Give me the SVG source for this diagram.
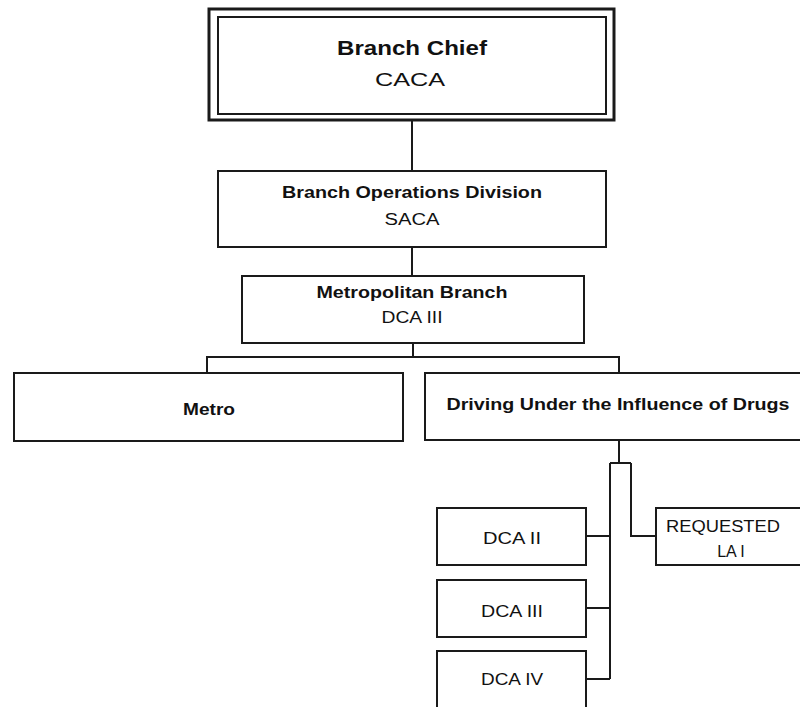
<svg xmlns="http://www.w3.org/2000/svg" width="800" height="707" viewBox="0 0 800 707">
<style>
.box{fill:#fff;stroke:#1a1a1a;stroke-width:2}
.ln{fill:none;stroke:#1a1a1a;stroke-width:2}
text{font-family:"Liberation Sans",Arial,sans-serif;fill:#111;text-anchor:middle}
.b{font-weight:bold}
</style>
<rect width="800" height="707" fill="#fff"/>
<g id="connectors">
<path class="ln" d="M412,120 V171"/>
<path class="ln" d="M412,247 V276"/>
<path class="ln" d="M413,343 V357 M207,373 V357 H619 V373"/>
<path class="ln" d="M619,440 V463 M610,463 H631 M610,463 V679 M631,463 V536 H656"/>
<path class="ln" d="M586,536 H610 M586,608 H610 M586,679 H610"/>
</g>
<g id="branch-chief">
<rect x="209" y="9" width="405" height="111" fill="#fff" stroke="#1a1a1a" stroke-width="3"/>
<rect x="218" y="17" width="388" height="97" fill="none" stroke="#1a1a1a" stroke-width="2"/>
<text class="b" x="412" y="55" font-size="21" textLength="150" lengthAdjust="spacingAndGlyphs">Branch Chief</text>
<text x="410" y="86" font-size="19" textLength="70" lengthAdjust="spacingAndGlyphs">CACA</text>
</g>
<g id="branch-operations">
<rect class="box" x="218" y="171" width="388" height="76"/>
<text class="b" x="412" y="198" font-size="17" textLength="260" lengthAdjust="spacingAndGlyphs">Branch Operations Division</text>
<text x="412" y="225" font-size="16" textLength="55" lengthAdjust="spacingAndGlyphs">SACA</text>
</g>
<g id="metropolitan-branch">
<rect class="box" x="242" y="276" width="342" height="67"/>
<text class="b" x="412" y="298" font-size="16" textLength="191" lengthAdjust="spacingAndGlyphs">Metropolitan Branch</text>
<text x="412" y="323" font-size="16" textLength="61" lengthAdjust="spacingAndGlyphs">DCA III</text>
</g>
<g id="metro">
<rect class="box" x="14" y="373" width="389" height="68"/>
<text class="b" x="209" y="415" font-size="16" textLength="52" lengthAdjust="spacingAndGlyphs">Metro</text>
</g>
<g id="duid">
<rect class="box" x="425" y="373" width="390" height="67"/>
<text class="b" x="618" y="410" font-size="17" textLength="343" lengthAdjust="spacingAndGlyphs">Driving Under the Influence of Drugs</text>
</g>
<g id="requested">
<rect class="box" x="656" y="508" width="160" height="57"/>
<text x="723" y="532" font-size="16" textLength="114" lengthAdjust="spacingAndGlyphs">REQUESTED</text>
<text x="731" y="557" font-size="16">LA I</text>
</g>
<g id="dca-ii">
<rect class="box" x="437" y="508" width="149" height="57"/>
<text x="512" y="544" font-size="16" textLength="58" lengthAdjust="spacingAndGlyphs">DCA II</text>
</g>
<g id="dca-iii">
<rect class="box" x="437" y="580" width="149" height="57"/>
<text x="512" y="617" font-size="16" textLength="62" lengthAdjust="spacingAndGlyphs">DCA III</text>
</g>
<g id="dca-iv">
<rect class="box" x="437" y="651" width="149" height="70"/>
<text x="512" y="685" font-size="16" textLength="62" lengthAdjust="spacingAndGlyphs">DCA IV</text>
</g>
</svg>
